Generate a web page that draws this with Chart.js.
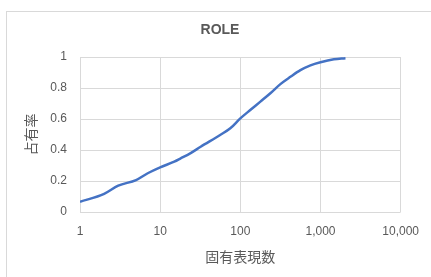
<!DOCTYPE html>
<html>
<head>
<meta charset="utf-8">
<script src="https://cdn.jsdelivr.net/npm/chart.js@4"></script>
<style>
  html, body { margin: 0; padding: 0; background: #fff; overflow: hidden; }
  #frame { position: absolute; left: 6px; top: 11px; width: 500px; height: 300px; border: 1px solid #d9d9d9; }
  #wrap { position: absolute; left: 0; top: 0; width: 431px; height: 277px; }
</style>
</head>
<body>
<div id="frame"></div>
<div id="wrap"><canvas id="myChart" width="431" height="277"></canvas></div>
<script>
// entity count (log x) and cumulative share
const counts = [1, 2, 3, 5, 7, 10, 15, 18, 24, 32, 56, 75, 100, 133, 178, 237, 316, 422, 562, 750, 1000, 1470, 2050];
const shares = [0.066, 0.117, 0.17, 0.206, 0.25, 0.288, 0.325, 0.346, 0.38, 0.421, 0.497, 0.54, 0.604, 0.658, 0.712, 0.766, 0.825, 0.872, 0.915, 0.946, 0.966, 0.985, 0.992];
const xTicks = [1, 10, 100, 1000, 10000];
const yTicks = [0, 0.2, 0.4, 0.6, 0.8, 1];
const titleText = 'ROLE';

const gray = '#595959';
const grid = '#d9d9d9';

const points = counts.map((c, i) => ({ x: c, y: shares[i] }));

// title centred over the whole frame, not just the chart box
const frameTitle = {
  id: 'frameTitle',
  afterDraw(chart) {
    const c = chart.ctx;
    c.save();
    c.fillStyle = gray;
    c.font = 'bold 14px "Liberation Sans"';
    c.textAlign = 'center';
    c.textBaseline = 'middle';
    c.fillText(titleText, 220, 30);
    c.restore();
  },
};

var ctx = document.getElementById('myChart').getContext('2d');
let myChart = new Chart(ctx, {
  type: 'scatter',
  data: {
    datasets: [{
      label: titleText,
      data: points,
      showLine: true,
      borderColor: '#4472c4',
      backgroundColor: '#4472c4',
      borderWidth: 2.5,
      pointRadius: 0,
      cubicInterpolationMode: 'monotone',
    }],
  },
  options: {
    responsive: false,
    animation: false,
    layout: { padding: { left: 0, right: 30, top: 57, bottom: 0 } },
    plugins: {
      legend: { display: false },
      tooltip: { enabled: false },
    },
    scales: {
      x: {
        type: 'logarithmic',
        min: 1,
        max: 10000,
        afterBuildTicks: (s) => { s.ticks = xTicks.map(v => ({ value: v })); },
        afterFit: (s) => { s.height = 65; },
        ticks: {
          color: gray,
          font: { family: 'Liberation Sans', size: 12 },
          padding: 12,
          maxRotation: 0,
          autoSkip: false,
          callback: (v) => Number(v).toLocaleString('en-US'),
        },
        grid: { color: grid, drawTicks: false },
        border: { display: false },
        title: {
          display: true,
          text: '固有表現数',
          color: gray,
          font: { family: 'Noto Sans CJK JP', size: 14 },
          padding: { top: 0, bottom: 12 },
        },
      },
      y: {
        min: 0,
        max: 1,
        afterBuildTicks: (s) => { s.ticks = yTicks.map(v => ({ value: v })); },
        afterFit: (s) => { s.width = 80; },
        ticks: {
          color: gray,
          font: { family: 'Liberation Sans', size: 12 },
          padding: 13,
          callback: (v) => String(v),
        },
        grid: { color: grid, drawTicks: false },
        border: { display: false },
        title: {
          display: true,
          text: '占有率',
          color: gray,
          font: { family: 'Noto Sans CJK JP', size: 14 },
          padding: { top: 22.6, bottom: 0 },
        },
      },
    },
  },
  plugins: [frameTitle],
});
</script>
</body>
</html>
